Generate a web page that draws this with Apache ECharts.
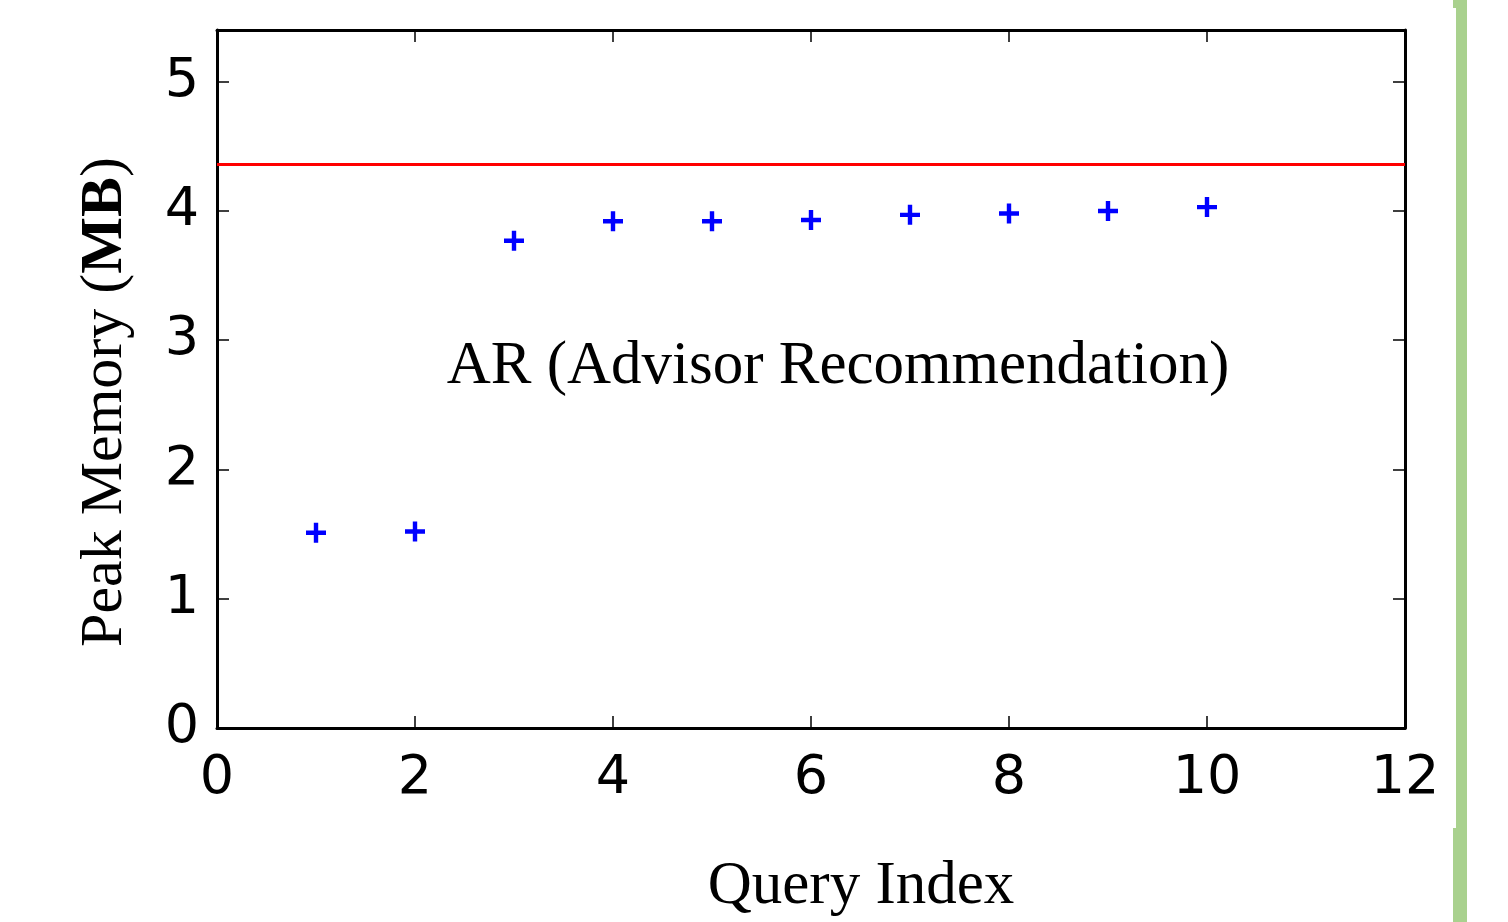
<!DOCTYPE html>
<html>
<head>
<meta charset="utf-8">
<script src="https://cdn.jsdelivr.net/npm/echarts@6/dist/echarts.min.js"></script>
<style>
  html, body { margin: 0; padding: 0; background: #fff; }
  #chart { width: 1508px; height: 922px; }
</style>
</head>
<body>
<div id="chart"></div>
<script>
// query index vs peak memory (MB)
const queryIndex = [1, 2, 3, 4, 5, 6, 7, 8, 9, 10]
const peakMemory = [1.51, 1.52, 3.77, 3.92, 3.92, 3.93, 3.97, 3.98, 4.00, 4.03]
const limitMB = 4.36
const xTicks = { min: 0, max: 12, interval: 2 }
const yTicks = { min: 0, max: 5.4, interval: 1 }
const noteText = 'AR (Advisor Recommendation)'

const plus = 'path://M39,0H61V39H100V61H61V100H39V61H0V39H39Z'
const serif = '"Liberation Serif", "DejaVu Serif", serif'
const sans = '"DejaVu Sans", sans-serif'

const chart = echarts.init(document.getElementById('chart'))

const frameLine = { show: true, onZero: false, lineStyle: { color: '#000', width: 3 } }
const tick = { show: true, inside: true, length: 12, lineStyle: { color: '#000', width: 1.5 } }

chart.setOption({
  backgroundColor: '#fff',
  animation: false,
  grid: { left: 217, right: 103, top: 30, bottom: 194 },
  xAxis: [{
    type: 'value',
    min: xTicks.min,
    max: xTicks.max,
    interval: xTicks.interval,
    name: 'Query Index',
    nameLocation: 'middle',
    nameGap: 128,
    nameTextStyle: { fontFamily: serif, fontSize: 61, color: '#000', padding: [0, 0, 0, 100] },
    axisLine: frameLine,
    axisTick: tick,
    splitLine: { show: false },
    axisLabel: { fontFamily: sans, fontSize: 54, color: '#000', margin: 24 }
  }, {
    type: 'value',
    position: 'top',
    min: xTicks.min,
    max: xTicks.max,
    interval: xTicks.interval,
    axisLine: frameLine,
    axisTick: tick,
    splitLine: { show: false },
    axisLabel: { show: false }
  }],
  yAxis: [{
    type: 'value',
    min: yTicks.min,
    max: yTicks.max,
    interval: yTicks.interval,
    name: 'Peak Memory ({b|MB})',
    nameLocation: 'middle',
    nameGap: 82,
    nameRotate: 90,
    nameTextStyle: {
      fontFamily: serif, fontSize: 60, color: '#000', padding: [0, 46, 0, 0],
      rich: { b: { fontFamily: serif, fontSize: 60, fontWeight: 'bold', color: '#000' } }
    },
    axisLine: frameLine,
    axisTick: tick,
    splitLine: { show: false },
    axisLabel: {
      fontFamily: sans, fontSize: 54, color: '#000', margin: 18,
      formatter: v => (Number.isInteger(v) ? String(v) : '')
    }
  }, {
    type: 'value',
    position: 'right',
    min: yTicks.min,
    max: yTicks.max,
    interval: yTicks.interval,
    axisLine: frameLine,
    axisTick: tick,
    splitLine: { show: false },
    axisLabel: { show: false }
  }],
  series: [{
    type: 'scatter',
    data: queryIndex.map((q, i) => [q, peakMemory[i]]),
    symbol: plus,
    symbolSize: 20,
    itemStyle: { color: '#0000ff', opacity: 1 },
    markLine: {
      silent: true,
      symbol: ['none', 'none'],
      label: { show: false },
      lineStyle: { color: '#ff0000', width: 3, type: 'solid', opacity: 1 },
      data: [{ yAxis: limitMB }]
    }
  }],
  graphic: [
    {
      type: 'text',
      x: 838,
      y: 367,
      style: {
        text: noteText,
        fontFamily: serif,
        fontSize: 61,
        fill: '#000',
        align: 'center',
        verticalAlign: 'middle'
      }
    },
    // green page edge on the right
    { type: 'rect', shape: { x: 1453, y: 0, width: 4, height: 8 }, style: { fill: '#a9d18e' } },
    { type: 'rect', shape: { x: 1456, y: 0, width: 11, height: 830 }, style: { fill: '#a9d18e' } },
    { type: 'rect', shape: { x: 1453, y: 828, width: 14, height: 94 }, style: { fill: '#a9d18e' } }
  ]
})

window.addEventListener('resize', () => chart.resize())
</script>
</body>
</html>
